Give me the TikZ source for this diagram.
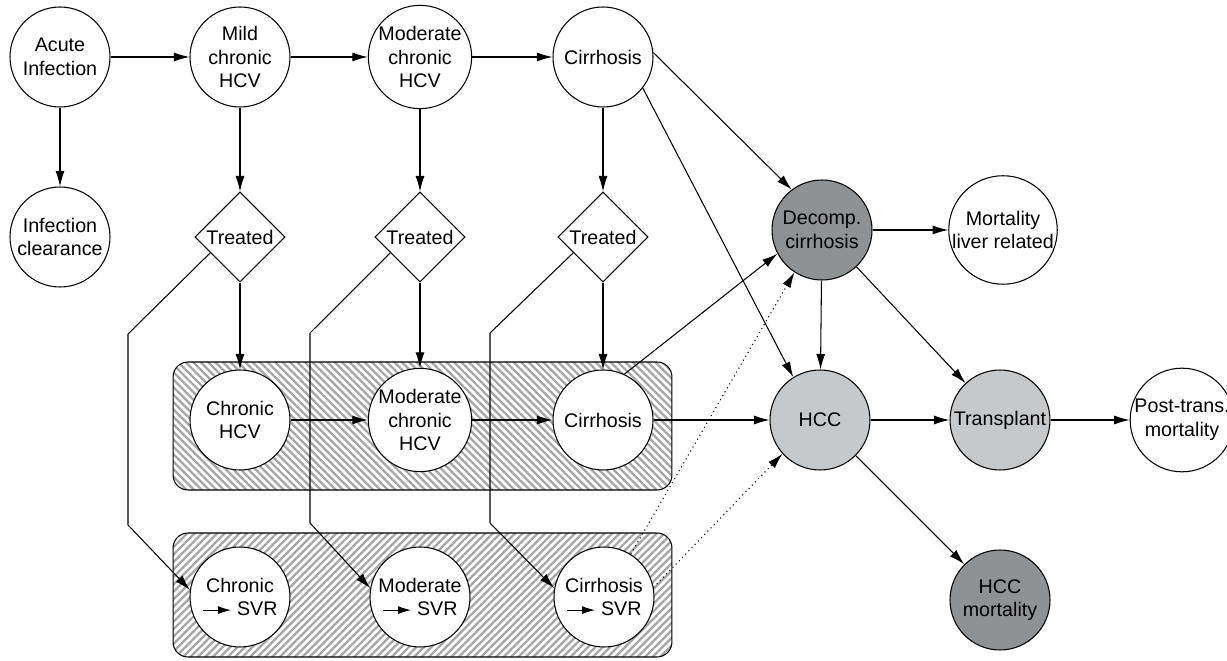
\documentclass[tikz,border=0pt]{standalone}
\usepackage{fontspec}
\setmainfont{Liberation Sans}
\usetikzlibrary{arrows.meta, shapes.geometric, patterns.meta}
\definecolor{decompgray}{RGB}{142,146,149}
\definecolor{hccgray}{RGB}{198,201,203}
\definecolor{hatchgray}{RGB}{165,165,165}
\newcommand{\svrarrow}{\tikz[baseline=-0.55ex]\draw[-{Latex[length=2.6mm,width=1.6mm]}, line width=0.6pt] (0cm,0cm) -- (0.56cm,0cm);}
\tikzset{
    x=0.02cm, y=-0.02cm, % one unit is one pixel of the layout
    >={Latex[length=3.1mm,width=1.8mm]}, % filled arrow heads
    state/.style={circle, draw, fill=white, line width=0.6pt, minimum size=2cm, inner sep=0pt,
        align=center, font=\fontsize{11.2pt}{13.4pt}\selectfont}, % every health state
    decision/.style={diamond, draw, fill=white, line width=0.6pt, minimum size=1.8cm, inner sep=0pt,
        font=\fontsize{11.2pt}{13.4pt}\selectfont}, % treatment choice
    arrow/.style={->, line width=0.6pt},
    effect/.style={->, line width=0.6pt, dotted},
    hatchbox/.style={draw, rounded corners=0.3cm, line width=0.6pt, minimum width=9.98cm,
        minimum height=2.56cm, pattern color=hatchgray}, % grouped states
}

\begin{document}
\begin{tikzpicture}
    \useasboundingbox (0,0) rectangle (1227,661);

    % hatched groups
    \node[hatchbox, pattern={Lines[angle=-45,distance=3pt,line width=1.3pt]}] (chronicbox) at (422.5,426) {};
    \node[hatchbox, minimum height=2.48cm, pattern={Lines[angle=45,distance=3pt,line width=1.3pt]}] (svrbox) at (422.5,595) {};

    % natural history
    \node[state] (acute) at (60,57) {Acute\\Infection};
    \node[state] (mild) at (240,57) {Mild\\chronic\\HCV};
    \node[state] (mod) at (420,57) {Moderate\\chronic\\HCV};
    \node[state] (cirr) at (603,57) {Cirrhosis};
    \node[state] (clear) at (60,237) {Infection\\clearance};

    % treatment
    \node[decision] (trA) at (240,237) {Treated};
    \node[decision] (trB) at (420,237) {Treated};
    \node[decision] (trC) at (603,237) {Treated};

    \node[state] (chr) at (240,420) {Chronic\\HCV};
    \node[state] (modB) at (420,420) {Moderate\\chronic\\HCV};
    \node[state] (cirrB) at (603,420) {Cirrhosis};

    \node[state] (svrA) at (240,597) {Chronic\\\svrarrow\ SVR};
    \node[state] (svrB) at (420,597) {Moderate\\\svrarrow\ SVR};
    \node[state] (svrC) at (604,597) {Cirrhosis\\\svrarrow\ SVR};

    % complications
    \node[state, fill=decompgray] (decomp) at (822,230) {Decomp.\\cirrhosis};
    \node[state] (mortliv) at (1003,230) {Mortality\\liver related};
    \node[state, fill=hccgray] (hcc) at (820,420) {HCC};
    \node[state, fill=hccgray] (transp) at (1000,420) {Transplant};
    \node[state] (posttr) at (1182,420) {Post-trans.\\mortality};
    \node[state, fill=decompgray] (hccmort) at (1000,600) {HCC\\mortality};

    % bends of the SVR routes
    \coordinate (bendA1) at (128,334);
    \coordinate (bendA2) at (128,525);
    \coordinate (bendB1) at (310,333);
    \coordinate (bendB2) at (310,523);
    \coordinate (bendC1) at (490,333);
    \coordinate (bendC2) at (490,523);

    \path[arrow]
        (acute) edge (mild)
                edge (clear)
        (mild) edge (mod)
               edge (trA)
        (mod) edge (cirr)
              edge (trB)
        (cirr) edge (trC)
        (trA) edge (chr)
        (trB) edge (modB)
        (trC) edge (cirrB)
        (chr) edge (modB)
        (modB) edge (cirrB)
        (cirrB) edge (hcc)
        (decomp) edge (mortliv)
                 edge (hcc)
                 edge (transp)
        (hcc) edge (transp)
              edge (hccmort)
        (transp) edge (posttr);

    \draw[arrow] (cirr.5) -- (decomp.127);
    \draw[arrow] (cirr.322) -- (hcc.122);
    \draw[arrow] (cirrB.65) -- (decomp.208);

    \draw[arrow] (trA.208) -- (bendA1) -- (bendA2) -- (svrA.172);
    \draw[arrow] (trB.208) -- (bendB1) -- (bendB2) -- (svrB.170);
    \draw[arrow] (trC.208) -- (bendC1) -- (bendC2) -- (svrC.170);

    \draw[effect] (svrC.58) -- (decomp.237);
    \draw[effect] (svrC.11) -- (hcc.222);
\end{tikzpicture}
\end{document}
